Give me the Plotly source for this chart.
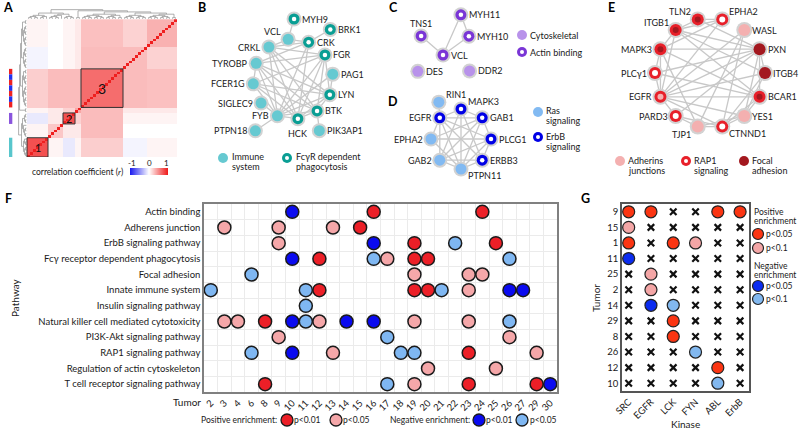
import numpy as np
import plotly.graph_objects as go

W, H = 800, 429
FONT = "Lato"

# ---------------- Panel A: correlation heatmap (block estimates) ----
cluster_sizes = [7, 5, 4, 2, 14, 8, 10]
cluster_corr = [
    [0.78, 0.05, -0.10, 0.05, 0.22, -0.05, 0.05],
    [0.05, 0.25, 0.10, 0.10, 0.30, 0.00, 0.00],
    [-0.10, 0.10, 0.78, 0.20, 0.30, 0.05, 0.05],
    [0.05, 0.10, 0.20, 0.40, 0.30, 0.10, 0.10],
    [0.22, 0.30, 0.30, 0.30, 0.65, 0.30, 0.28],
    [-0.05, 0.00, 0.05, 0.10, 0.30, 0.30, 0.20],
    [0.05, 0.00, 0.05, 0.10, 0.28, 0.20, 0.35],
]
dendro_tree = ((0, (1, 2)), (3, (4, (5, 6))))
boxed_clusters = {0: "1", 2: "2", 4: "3"}
sidebar_colors = {0: ["#58c6cc"], 2: ["#8a55dd"], 4: ["#ee2222", "#2233ee"]}
cbar_ticks = [-1, 0, 1]

# ---------------- Panel F data ----------------
pathways = ["Actin binding", "Adherens junction", "ErbB signaling pathway",
            "Fcγ receptor dependent phagocytosis", "Focal adhesion",
            "Innate immune system", "Insulin signaling pathway",
            "Natural killer cell mediated cytotoxicity", "PI3K-Akt signaling pathway",
            "RAP1 signaling pathway", "Regulation of actin cytoskeleton",
            "T cell receptor signaling pathway"]
tumors = [2, 3, 4, 6, 8, 9, 10, 11, 12, 13, 14, 15, 16, 17, 18, 19, 20, 21, 22,
          23, 24, 25, 26, 27, 29, 30]
pos_p001 = {"Actin binding": [16, 24], "Adherens junction": [15],
            "ErbB signaling pathway": [19, 25],
            "Fcγ receptor dependent phagocytosis": [12, 19, 20],
            "Innate immune system": [12, 19, 20],
            "Natural killer cell mediated cytotoxicity": [8],
            "RAP1 signaling pathway": [23],
            "T cell receptor signaling pathway": [8, 23, 29]}
pos_p005 = {"Adherens junction": [3, 9, 13], "ErbB signaling pathway": [9],
            "Fcγ receptor dependent phagocytosis": [17],
            "Focal adhesion": [19, 23, 24], "Innate immune system": [23],
            "Natural killer cell mediated cytotoxicity": [3, 4, 12, 19, 23],
            "PI3K-Akt signaling pathway": [9, 26],
            "RAP1 signaling pathway": [13, 29],
            "Regulation of actin cytoskeleton": [20, 25],
            "T cell receptor signaling pathway": [19]}
neg_p001 = {"Actin binding": [10], "ErbB signaling pathway": [16],
            "Fcγ receptor dependent phagocytosis": [10],
            "Innate immune system": [26, 27],
            "Natural killer cell mediated cytotoxicity": [10, 14, 16],
            "RAP1 signaling pathway": [10],
            "T cell receptor signaling pathway": [30]}
neg_p005 = {"ErbB signaling pathway": [22],
            "Fcγ receptor dependent phagocytosis": [16, 26],
            "Focal adhesion": [6], "Innate immune system": [2, 11, 21],
            "Insulin signaling pathway": [11],
            "Natural killer cell mediated cytotoxicity": [11, 26],
            "PI3K-Akt signaling pathway": [17],
            "RAP1 signaling pathway": [6, 18, 19],
            "T cell receptor signaling pathway": [17]}

# ---------------- Panel G data ----------------
kinases = ["SRC", "EGFR", "LCK", "FYN", "ABL", "ErbB"]
g_tumors = [9, 15, 1, 11, 25, 2, 14, 29, 8, 26, 12, 10]
g_enrichment = [
    ["P05", "P05", "", "", "P05", "P05"],
    ["P10", "", "", "", "", ""],
    ["P05", "", "P05", "P10", "", ""],
    ["N05", "", "", "", "", ""],
    ["", "P10", "", "", "", ""],
    ["", "P10", "", "", "", ""],
    ["", "N05", "N10", "", "", ""],
    ["", "", "P05", "", "", ""],
    ["", "", "P05", "", "", ""],
    ["", "", "", "N10", "", ""],
    ["", "", "", "", "P05", ""],
    ["", "", "", "", "N10", ""],
]

# ---------------- Networks B-E ----------------
net_B_ring = ["VCL", "CRK", "FGR", "PAG1", "LYN", "BTK", "HCK", "FYB", "SIGLEC9",
              "FCER1G", "TYROBP", "CRKL"]
net_B_sat = {"MYH9": (89, 60), "BRK1": (53, 62), "PTPN18": (-126, 64), "PIK3AP1": (-63, 58)}
net_B_fc = ["CRK", "FGR", "LYN", "BTK", "HCK", "MYH9", "BRK1"]
net_B_edges = [("MYH9", "VCL"), ("BRK1", "CRK"), ("PTPN18", "FYB"), ("PIK3AP1", "BTK"),
               ("VCL", "CRK"), ("VCL", "CRKL"), ("CRK", "CRKL"), ("CRK", "FYB"),
               ("CRK", "HCK"), ("CRK", "TYROBP"), ("CRKL", "FGR"), ("CRKL", "LYN"),
               ("CRKL", "HCK"), ("CRKL", "FYB"), ("CRKL", "BTK"), ("TYROBP", "FGR"),
               ("TYROBP", "LYN"), ("TYROBP", "BTK"), ("TYROBP", "HCK"),
               ("TYROBP", "FCER1G"), ("TYROBP", "FYB"), ("FCER1G", "FGR"),
               ("FCER1G", "LYN"), ("FCER1G", "BTK"), ("FCER1G", "HCK"),
               ("FCER1G", "FYB"), ("SIGLEC9", "FYB"), ("FGR", "LYN"), ("FGR", "HCK"),
               ("FGR", "FYB"), ("FGR", "BTK"), ("PAG1", "LYN"), ("PAG1", "FYB"),
               ("LYN", "BTK"), ("LYN", "HCK"), ("LYN", "FYB"), ("BTK", "HCK"),
               ("HCK", "FYB"), ("BTK", "FYB")]
net_B_lab = {"MYH9": "r", "BRK1": "r", "VCL": "tl", "CRK": "r", "CRKL": "l", "FGR": "r",
             "TYROBP": "l", "PAG1": "r", "FCER1G": "l", "LYN": "r", "SIGLEC9": "l",
             "BTK": "r", "FYB": "l", "HCK": "b", "PTPN18": "l", "PIK3AP1": "r"}

net_C_nodes = {"VCL": (0, 0), "MYH10": (36, 32), "TNS1": (139, 29), "MYH11": (66, 44),
               "DES": (-147, 30), "DDR2": (-31, 31)}
net_C_actin = ["VCL", "MYH10", "TNS1", "MYH11"]
net_C_edges = [("MYH11", "MYH10"), ("MYH11", "VCL"), ("TNS1", "VCL"), ("MYH10", "VCL")]
net_C_lab = {"VCL": "r", "MYH10": "r", "TNS1": "t", "MYH11": "r", "DES": "r", "DDR2": "r"}

net_D_ring = ["MAPK3", "GAB1", "PLCG1", "ERBB3", "PTPN11", "GAB2", "EPHA2", "EGFR"]
net_D_sat = {"RIN1": (121, 43)}
net_D_erbb = ["MAPK3", "GAB1", "PLCG1", "ERBB3", "EGFR"]
net_D_edges = [("RIN1", "EGFR"), ("EGFR", "MAPK3"), ("EGFR", "GAB1"), ("EGFR", "PLCG1"),
               ("EGFR", "ERBB3"), ("EGFR", "PTPN11"), ("EGFR", "GAB2"), ("EGFR", "EPHA2"),
               ("MAPK3", "PTPN11"), ("MAPK3", "GAB2"), ("MAPK3", "ERBB3"), ("MAPK3", "GAB1"),
               ("GAB1", "PTPN11"), ("GAB1", "GAB2"), ("GAB1", "PLCG1"), ("GAB1", "EPHA2"),
               ("PLCG1", "EPHA2"), ("PLCG1", "ERBB3"), ("PLCG1", "GAB2"), ("PLCG1", "PTPN11"),
               ("ERBB3", "PTPN11"), ("ERBB3", "GAB2"), ("PTPN11", "GAB2"), ("EPHA2", "PTPN11")]
net_D_lab = {"RIN1": "tr", "MAPK3": "tr", "GAB1": "r", "PLCG1": "r", "ERBB3": "r",
             "PTPN11": "br", "GAB2": "l", "EPHA2": "l", "EGFR": "l"}

net_E_ring = ["TLN2", "EPHA2", "WASL", "PXN", "ITGB4", "BCAR1", "YES1", "CTNND1",
              "TJP1", "PARD3", "EGFR", "PLCγ1", "MAPK3", "ITGB1"]
net_E_style = {"TLN2": ("R", "D"), "EPHA2": ("R", "W"), "WASL": ("P", "P"),
               "PXN": ("D", "D"), "ITGB4": ("D", "D"), "BCAR1": ("R", "D"),
               "YES1": ("P", "P"), "CTNND1": ("R", "W"), "TJP1": ("P", "P"),
               "PARD3": ("R", "W"), "EGFR": ("R", "P"), "PLCγ1": ("R", "W"),
               "MAPK3": ("R", "D"), "ITGB1": ("R", "D")}
net_E_edges = [("ITGB1", "TLN2"), ("ITGB1", "PXN"), ("ITGB1", "ITGB4"), ("ITGB1", "BCAR1"),
               ("ITGB1", "MAPK3"), ("ITGB1", "EGFR"), ("ITGB1", "EPHA2"), ("TLN2", "PXN"),
               ("TLN2", "EPHA2"), ("EPHA2", "EGFR"), ("EPHA2", "MAPK3"), ("WASL", "EGFR"),
               ("WASL", "CTNND1"), ("WASL", "TJP1"), ("PXN", "MAPK3"), ("PXN", "EGFR"),
               ("PXN", "BCAR1"), ("PXN", "PLCγ1"), ("PXN", "YES1"), ("PXN", "PARD3"),
               ("PXN", "ITGB4"), ("ITGB4", "EGFR"), ("ITGB4", "YES1"), ("ITGB4", "CTNND1"),
               ("BCAR1", "EGFR"), ("BCAR1", "YES1"), ("BCAR1", "CTNND1"), ("BCAR1", "MAPK3"),
               ("BCAR1", "PLCγ1"), ("YES1", "CTNND1"), ("YES1", "EGFR"), ("YES1", "TJP1"),
               ("CTNND1", "TJP1"), ("CTNND1", "EGFR"), ("CTNND1", "PARD3"), ("TJP1", "PARD3"),
               ("EGFR", "PARD3"), ("EGFR", "PLCγ1"), ("EGFR", "MAPK3"), ("PLCγ1", "MAPK3"),
               ("MAPK3", "TJP1")]
net_E_lab = {"TLN2": "tl", "EPHA2": "tr", "WASL": "r", "PXN": "r", "ITGB4": "r",
             "BCAR1": "r", "YES1": "r", "CTNND1": "br", "TJP1": "bl", "PARD3": "l",
             "EGFR": "l", "PLCγ1": "l", "MAPK3": "l", "ITGB1": "tl"}

# ---------------- colours ----------------
F_RED, F_PINK, F_BLUE, F_LBLUE = "#ec1f27", "#f5a7a9", "#0a0af0", "#7fb7f2"
G_RED, G_PINK, G_BLUE, G_LBLUE = "#fb3512", "#f4a6a6", "#0b2cf0", "#82b8ef"
E_RED, E_DARK, E_PINK = "#e8202a", "#a3181f", "#f4b0b0"
HALO = "#d2d2d2"
EDGE = "#c8c8c8"
CSCALE = [[0, "#1f1fef"], [0.5, "#ffffff"], [1, "#ef1f1f"]]
NET_FS = 9
LEG_FS = 9
LINE2 = 9.5

fig = go.Figure()
shapes = []
annotations = []

# ================= Panel A =================
n = sum(cluster_sizes)
idx = np.repeat(np.arange(len(cluster_sizes)), cluster_sizes)
corr = np.array(cluster_corr)[idx][:, idx]
np.fill_diagonal(corr, 1.0)
starts = np.concatenate([[0], np.cumsum(cluster_sizes)[:-1]])

fig.add_trace(go.Heatmap(z=corr, x=np.arange(n), y=np.arange(n), zmin=-1, zmax=1,
                         colorscale=CSCALE, showscale=False, xaxis="x", yaxis="y",
                         hoverinfo="skip"))


def dendrogram(sizes, tree):
    segs, gnodes = [], []
    for s, m in zip(starts, sizes):
        nodes = [(float(s + i), 0.0) for i in range(m)]
        level = 0
        while len(nodes) > 1:
            level += 1
            new = []
            for k in range(0, len(nodes) - 1, 2):
                (p1, h1), (p2, h2) = nodes[k], nodes[k + 1]
                segs.append([(p1, h1), (p1, level), (p2, level), (p2, h2)])
                new.append(((p1 + p2) / 2, level))
            if len(nodes) % 2:
                new.append(nodes[-1])
            nodes = new
        gnodes.append(nodes[0])

    def merge(t):
        if isinstance(t, int):
            return gnodes[t]
        a, b = merge(t[0]), merge(t[1])
        h = max(a[1], b[1]) + 1
        segs.append([(a[0], a[1]), (a[0], h), (b[0], h), (b[0], b[1])])
        return ((a[0] + b[0]) / 2, h)

    root = merge(tree)
    return segs, root[1]


segs, hmax = dendrogram(cluster_sizes, dendro_tree)
tx, ty, lx, ly = [], [], [], []
for seg in segs:
    for p, h in seg:
        tx.append(p); ty.append(n - 0.5 + 0.2 + h / hmax * 3.3)
        lx.append(-0.7 - h / hmax * 2.6); ly.append(p)
    tx.append(None); ty.append(None); lx.append(None); ly.append(None)
for xs, ys in [(tx, ty), (lx, ly)]:
    fig.add_trace(go.Scatter(x=xs, y=ys, mode="lines", xaxis="x", yaxis="y",
                             line=dict(color="#9a9a9a", width=0.8), hoverinfo="skip"))

for ci, lab in boxed_clusters.items():
    a0 = starts[ci] - 0.5
    a1 = a0 + cluster_sizes[ci]
    shapes.append(dict(type="rect", xref="x", yref="y", x0=a0, x1=a1, y0=a0, y1=a1,
                       line=dict(color="#333", width=1)))
    annotations.append(dict(x=(a0 + a1) / 2, y=(a0 + a1) / 2, xref="x", yref="y",
                            text=lab, showarrow=False,
                            font=dict(family=FONT, size=14 if ci == 4 else 11, color="#111")))
for ci, cols in sidebar_colors.items():
    s0 = starts[ci] - 0.5
    m = cluster_sizes[ci]
    if len(cols) == 1:
        shapes.append(dict(type="rect", xref="x", yref="y", x0=-6.5, x1=-5.4,
                           y0=s0, y1=s0 + m, fillcolor=cols[0], line=dict(width=0)))
    else:
        k = 0
        top = s0 + m
        while top > s0:
            shapes.append(dict(type="rect", xref="x", yref="y", x0=-6.5, x1=-5.4,
                               y0=max(top - 2, s0), y1=top, fillcolor=cols[k % 2],
                               line=dict(width=0)))
            top -= 2
            k += 1

# colour key of panel A (gradient strip on pixel overlay axis)
grad = np.linspace(cbar_ticks[0], cbar_ticks[-1], 38)
fig.add_trace(go.Heatmap(z=[grad, grad], x=np.linspace(130.5, 167.5, 38), y=[169.75, 173.25],
                         zmin=-1, zmax=1, colorscale=CSCALE, showscale=False,
                         xaxis="x4", yaxis="y4", hoverinfo="skip"))

# ================= Panel F =================
for dct, col in [(pos_p001, F_RED), (pos_p005, F_PINK), (neg_p001, F_BLUE), (neg_p005, F_LBLUE)]:
    xs, ys = [], []
    for pw, tl in dct.items():
        for t in tl:
            xs.append(tumors.index(t)); ys.append(pathways.index(pw))
    fig.add_trace(go.Scatter(x=xs, y=ys, mode="markers", xaxis="x2", yaxis="y2",
                             marker=dict(size=13, color=col, line=dict(width=1.5, color="#1a1a1a")),
                             hoverinfo="skip"))

# ================= Panel G =================
gmap = {"P05": G_RED, "P10": G_PINK, "N05": G_BLUE, "N10": G_LBLUE}
xx, xy = [], []
circ = {k: ([], []) for k in gmap}
for r, row in enumerate(g_enrichment):
    for c, code in enumerate(row):
        if code == "":
            xx.append(c); xy.append(r)
        else:
            circ[code][0].append(c); circ[code][1].append(r)
fig.add_trace(go.Scatter(x=xx, y=xy, mode="markers", xaxis="x3", yaxis="y3",
                         marker=dict(symbol="x-thin", size=6.5, line=dict(width=2.2, color="#111")),
                         hoverinfo="skip"))
for code, (cx, cy) in circ.items():
    fig.add_trace(go.Scatter(x=cx, y=cy, mode="markers", xaxis="x3", yaxis="y3",
                             marker=dict(size=12, color=gmap[code], line=dict(width=1.2, color="#222")),
                             hoverinfo="skip"))

# ================= Networks (pixel overlay axis) =================
LABEL_OFF = {"r": (7, 0, "left", "middle"), "l": (-7, 0, "right", "middle"),
             "t": (0, -6, "center", "bottom"), "b": (0, 8, "center", "top"),
             "tl": (-6, -1, "right", "bottom"), "tr": (6, -1, "left", "bottom"),
             "bl": (-6, 1, "right", "top"), "br": (6, 0, "left", "top")}


def ring(names, cx, cy, r, start, step=None):
    step = -360 / len(names) if step is None else step
    pos = {}
    for i, nm in enumerate(names):
        a = np.deg2rad(start + i * step)
        pos[nm] = (cx + r * np.cos(a), cy - r * np.sin(a))
    return pos


def polar(center, d):
    out = {}
    for nm, (ang, r) in d.items():
        a = np.deg2rad(ang)
        out[nm] = (center[0] + r * np.cos(a), center[1] - r * np.sin(a))
    return out


def draw_net(pos, edges, outer, inner, labs, halo=15, size=11, inner_size=4.5):
    ex, ey = [], []
    for a, b in edges:
        ex += [pos[a][0], pos[b][0], None]
        ey += [pos[a][1], pos[b][1], None]
    fig.add_trace(go.Scatter(x=ex, y=ey, mode="lines", xaxis="x4", yaxis="y4",
                             line=dict(color=EDGE, width=1.3), hoverinfo="skip"))
    names = list(pos)
    px = [pos[k][0] for k in names]
    py = [pos[k][1] for k in names]
    fig.add_trace(go.Scatter(x=px, y=py, mode="markers", xaxis="x4", yaxis="y4",
                             marker=dict(size=halo, color=HALO), hoverinfo="skip"))
    fig.add_trace(go.Scatter(x=px, y=py, mode="markers", xaxis="x4", yaxis="y4",
                             marker=dict(size=size, color=[outer[k] for k in names]),
                             hoverinfo="skip"))
    ins = [k for k in names if inner.get(k) and inner[k] != outer[k]]
    if ins:
        fig.add_trace(go.Scatter(
            x=[pos[k][0] for k in ins], y=[pos[k][1] for k in ins],
            mode="markers", xaxis="x4", yaxis="y4",
            marker=dict(size=inner_size, color=[inner[k] for k in ins]), hoverinfo="skip"))
    for k in names:
        dx, dy, xa, ya = LABEL_OFF[labs[k]]
        annotations.append(dict(x=pos[k][0] + dx, y=pos[k][1] + dy, xref="x4", yref="y4",
                                text=k, showarrow=False, xanchor=xa, yanchor=ya,
                                borderpad=0,
                                font=dict(family=FONT, size=NET_FS, color="#1a1a1a")))


# B
B_TEAL, B_CYAN = "#0a9e94", "#66c9d1"
posB = ring(net_B_ring, 293, 79, 40, 97)
posB.update(polar((293, 79), net_B_sat))
draw_net(posB, net_B_edges,
         {k: (B_TEAL if k in net_B_fc else B_CYAN) for k in posB},
         {k: "#ffffff" for k in net_B_fc}, net_B_lab)
# C
C_PUR, C_LPUR = "#7a36d6", "#b892ea"
posC = polar((443, 55), net_C_nodes)
draw_net(posC, net_C_edges,
         {k: (C_PUR if k in net_C_actin else C_LPUR) for k in posC},
         {k: "#ffffff" for k in net_C_actin}, net_C_lab)
# D
D_BLUE, D_LBLUE = "#0000e6", "#82baf2"
posD = ring(net_D_ring, 461, 139, 30, 90)
posD.update(polar((461, 139), net_D_sat))
draw_net(posD, net_D_edges,
         {k: (D_BLUE if k in net_D_erbb else D_LBLUE) for k in posD},
         {k: "#ffffff" for k in net_D_erbb}, net_D_lab)
# E
ecol = {"R": E_RED, "D": E_DARK, "P": E_PINK, "W": "#ffffff"}
posE = ring(net_E_ring, 710, 73, 55, 90 + 360 / 28)
draw_net(posE, net_E_edges,
         {k: ecol[net_E_style[k][0]] for k in posE},
         {k: ecol[net_E_style[k][1]] for k in posE}, net_E_lab,
         halo=16, size=12, inner_size=6)

# ---------------- legends (pixel overlay) ----------------
leg = [  # (x, y, outer, inner, size)
    (223, 158, B_CYAN, None, 10), (287, 158, B_TEAL, "#fff", 10),
    (522, 35, C_LPUR, None, 10), (522, 52, C_PUR, "#fff", 10),
    (538, 112, D_LBLUE, None, 10), (538, 137, D_BLUE, "#fff", 10),
    (620, 161, E_PINK, None, 10), (686, 161, E_RED, "#fff", 10),
    (744, 161, E_DARK, None, 10),
]
for x, y, o, i, s in leg:
    fig.add_trace(go.Scatter(x=[x], y=[y], mode="markers", xaxis="x4", yaxis="y4",
                             marker=dict(size=s, color=o), hoverinfo="skip"))
    if i:
        fig.add_trace(go.Scatter(x=[x], y=[y], mode="markers", xaxis="x4", yaxis="y4",
                                 marker=dict(size=4, color=i), hoverinfo="skip"))
legF = [(287, F_RED), (336, F_PINK), (479, F_BLUE), (522, F_LBLUE)]
for x, c in legF:
    fig.add_trace(go.Scatter(x=[x], y=[420], mode="markers", xaxis="x4", yaxis="y4",
                             marker=dict(size=12, color=c, line=dict(width=1.3, color="#1a1a1a")),
                             hoverinfo="skip"))
legG = [(234, G_RED), (248, G_PINK), (286, G_BLUE), (299, G_LBLUE)]
for y, c in legG:
    fig.add_trace(go.Scatter(x=[758], y=[y], mode="markers", xaxis="x4", yaxis="y4",
                             marker=dict(size=11, color=c, line=dict(width=1.2, color="#222")),
                             hoverinfo="skip"))


def txt(x, y, s, size=9.5, xa="left", ya="middle", bold=False, angle=0, color="#1a1a1a"):
    annotations.append(dict(x=x / W, y=1 - y / H, xref="paper", yref="paper", text=s,
                            showarrow=False, xanchor=xa, yanchor=ya, textangle=angle,
                            borderpad=0,
                            font=dict(family=FONT, size=size, color=color,
                                      weight="bold" if bold else "normal")))


def txt2(x, y, l1, l2, size):
    txt(x, y - 0.5, l1, size=size)
    txt(x, y - 0.5 + LINE2, l2, size=size)


# panel letters
for L, x, y in [("A", 8, 7), ("B", 202, 7), ("C", 393, 7), ("D", 393, 101),
                ("E", 611, 7), ("F", 8, 199), ("G", 585, 199)]:
    txt(x, y, L, size=12.5, xa="center", bold=True, color="#000")

txt(77, 172, "correlation coefficient (<i>r</i>)", size=8.5, xa="center")
for v, xpx in zip(cbar_ticks, [132, 149, 166.5]):
    txt(xpx, 163.5, str(v), size=8, xa="center")
# network legend text
txt2(231, 157, "Immune", "system", LEG_FS)
txt2(295, 157, "FcγR dependent", "phagocytosis", LEG_FS)
txt(529, 35, "Cytoskeletal", size=LEG_FS); txt(529, 52, "Actin binding", size=LEG_FS)
txt2(545, 111, "Ras", "signaling", LEG_FS)
txt2(545, 137, "ErbB", "signaling", LEG_FS)
txt2(627, 161, "Adherins", "junctions", LEG_FS)
txt2(693, 161, "RAP1", "signaling", LEG_FS)
txt2(751, 161, "Focal", "adhesion", LEG_FS)

# F axis titles & legend
txt(15, 298, "Pathway", size=10, xa="center", angle=-90)
txt(202, 402, "Tumor", size=10, xa="right")
txt(200, 420, "Positive enrichment:", size=8.5)
txt(293, 420, "p<0.01", size=8.5)
txt(342, 420, "p<0.05", size=8.5)
txt(389, 420, "Negative enrichment:", size=8.5)
txt(485, 420, "p<0.01", size=8.5)
txt(529, 420, "p<0.05", size=8.5)

# G titles & legend
txt(596, 298, "Tumor", size=10, xa="center", angle=-90)
txt(685, 424, "Kinase", size=10, xa="center")
txt(753, 212, "Positive", size=8.5); txt(753, 221, "enrichment", size=8.5)
txt(765, 234, "p<0.05", size=8.5); txt(765, 248, "p<0.1", size=8.5)
txt(753, 266, "Negative", size=8.5); txt(753, 275, "enrichment", size=8.5)
txt(765, 286, "p<0.05", size=8.5); txt(765, 299, "p<0.1", size=8.5)

tickfont = dict(family=FONT, size=9.5, color="#1a1a1a")
layout_axes = dict(
    xaxis=dict(domain=[7 / W, 177 / W], range=[-7.17, n - 0.5], visible=False,
               fixedrange=True, automargin=False, anchor="y"),
    yaxis=dict(domain=[1 - 157 / H, 1 - 8 / H], range=[-0.5, n + 3.6], visible=False,
               fixedrange=True, automargin=False, anchor="x"),
    xaxis2=dict(domain=[204 / W, 557 / W], range=[-0.5, len(tumors) - 0.5], anchor="y2",
                tickmode="array", tickvals=list(range(len(tumors))),
                ticktext=[str(t) for t in tumors], tickangle=-45, tickfont=tickfont,
                showgrid=False, zeroline=False, showline=True, mirror=True,
                linecolor="#808080", linewidth=1.5, ticks="", automargin=False,
                minor=dict(tick0=0.5, dtick=1, showgrid=True, gridcolor="#ebebeb",
                           gridwidth=1, ticks="")),
    yaxis2=dict(domain=[1 - 392 / H, 1 - 204 / H], range=[len(pathways) - 0.5, -0.5],
                anchor="x2", tickmode="array", tickvals=list(range(len(pathways))),
                ticktext=pathways, tickfont=tickfont, showgrid=False, zeroline=False,
                showline=True, mirror=True, linecolor="#808080", linewidth=1.5, ticks="",
                automargin=False,
                minor=dict(tick0=0.5, dtick=1, showgrid=True, gridcolor="#ebebeb",
                           gridwidth=1, ticks="")),
    xaxis3=dict(domain=[622 / W, 749 / W], range=[-0.3, len(kinases) - 0.6], anchor="y3",
                tickmode="array", tickvals=list(range(len(kinases))), ticktext=kinases,
                tickangle=-45, tickfont=tickfont, showgrid=False, zeroline=False,
                showline=True, mirror=True, linecolor="#555", linewidth=1.5, ticks="",
                automargin=False),
    yaxis3=dict(domain=[1 - 391 / H, 1 - 204 / H], range=[len(g_tumors) - 0.5, -0.5],
                anchor="x3", tickmode="array", tickvals=list(range(len(g_tumors))),
                ticktext=[str(t) for t in g_tumors], tickfont=tickfont, showgrid=False,
                zeroline=False, showline=True, mirror=True, linecolor="#555",
                linewidth=1.5, ticks="", automargin=False),
    xaxis4=dict(domain=[0, 1], range=[0, W], visible=False, fixedrange=True,
                automargin=False, anchor="y4"),
    yaxis4=dict(domain=[0, 1], range=[H, 0], visible=False, fixedrange=True,
                automargin=False, anchor="x4"),
)

fig.update_layout(template="none", width=W, height=H,
                  margin=dict(l=0, r=0, t=0, b=0, autoexpand=False),
                  paper_bgcolor="white", plot_bgcolor="rgba(0,0,0,0)",
                  showlegend=False, shapes=shapes, annotations=annotations,
                  font=dict(family=FONT), **layout_axes)
fig.write_html("out.html", config={"displayModeBar": False},
               post_script="document.body.style.margin='0';document.body.style.overflow='hidden';")
